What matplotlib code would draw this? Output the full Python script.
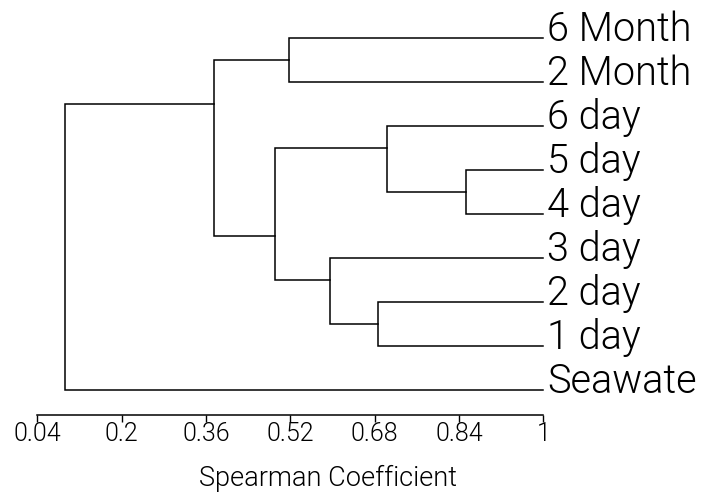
import matplotlib
matplotlib.use("Agg")
import matplotlib.pyplot as plt
from matplotlib.transforms import offset_copy

# Leaves, top to bottom
labels = ["6 Month", "2 Month", "6 day", "5 day", "4 day", "3 day", "2 day", "1 day", "Seawate"]

# Merges: (child_a, child_b, Spearman coefficient, drawn row position of node)
# children: ints are leaf indices, "Mk" refer to merge k (0-based)
merge_a = [3, 6, 2, 5, "M2", 0, "M5", "M6"]
merge_b = [4, 7, "M0", "M1", "M3", 1, "M4", 8]
merge_h = [0.853, 0.686, 0.704, 0.595, 0.491, 0.518, 0.375, 0.093]
merge_pos = [3.5, 6.5, 2.5, 5.5, 4.5, 0.5, 1.5, 4.0]

tick_vals = [0.04, 0.2, 0.36, 0.52, 0.68, 0.84, 1]
tick_labels = ["0.04", "0.2", "0.36", "0.52", "0.68", "0.84", "1"]
xlabel = "Spearman Coefficient"

FONT = ["Roboto", "Liberation Sans", "DejaVu Sans"]
WT = 300

W, H = 707, 496
fig = plt.figure(figsize=(W / 100, H / 100), dpi=100)
ax = fig.add_axes([37.3 / W, 1 - 415 / H, (543.3 - 37.3) / W, (415 - 10) / H])

lw = 1.1
col = "black"


def node_info(c):
    if isinstance(c, str):
        k = int(c[1:])
        return merge_h[k], merge_pos[k]
    return 1.0, float(c)


for k in range(len(merge_h)):
    h = merge_h[k]
    xa, ya = node_info(merge_a[k])
    xb, yb = node_info(merge_b[k])
    ax.plot([xa, h, h, xb], [ya, ya, yb, yb], color=col, lw=lw,
            solid_joinstyle="miter", clip_on=False)

tr = offset_copy(ax.transData, fig=fig, x=4, y=-3, units="dots")
for i, lab in enumerate(labels):
    ax.text(1.0, i, lab, transform=tr, ha="left", va="baseline",
            fontsize=28.5, family=FONT, fontweight=WT, color=col)

ax.set_xlim(0.04, 1.0)
ax.set_ylim(8.577, -0.649)
ax.set_xticks(tick_vals)
ax.set_xticklabels(tick_labels, family=FONT, fontweight=WT, fontsize=18)
ax.tick_params(axis="x", direction="out", length=5, width=1, pad=0, color=col)
ax.set_yticks([])
for s in ["top", "left", "right"]:
    ax.spines[s].set_visible(False)
ax.spines["bottom"].set_linewidth(lw)

fig.text(328 / W, 1 - 486 / H, xlabel, ha="center", va="baseline",
         fontsize=19.5, family=FONT, fontweight=WT)

fig.savefig("out.png", dpi=100)
